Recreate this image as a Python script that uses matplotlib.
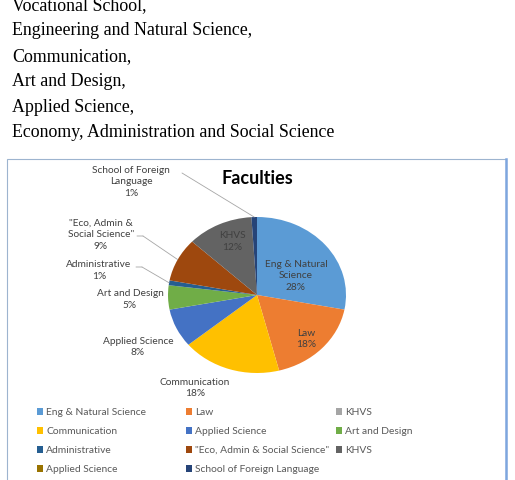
import numpy as np
import matplotlib
matplotlib.use("Agg")
import matplotlib.pyplot as plt

W, H = 515, 480

# text of the document above the chart
intro_lines = ["Vocational School,",
               "Engineering and Natural Science,",
               "Communication,",
               "Art and Design,",
               "Applied Science,",
               "Economy, Administration and Social Science"]

# chart data (clockwise from 12 o'clock)
faculties = ["Eng & Natural Science", "Law", "KHVS", "Communication",
             "Applied Science", "Art and Design", "Administrative",
             '"Eco, Admin & Social Science"', "KHVS", "Applied Science",
             "School of Foreign Language"]
shares = [28, 18, 0, 18, 8, 5, 1, 9, 12, 0, 1]
colors = ["#5B9BD5", "#ED7D31", "#A5A5A5", "#FFC000", "#4472C4", "#70AD47",
          "#255E91", "#9E480E", "#636363", "#997300", "#264478"]
# wrapped data labels as Excel shows them (None = not shown)
slice_labels = ["Eng & Natural\nScience", "Law", None, "Communication",
                "Applied Science", "Art and Design", "Administrative",
                '"Eco, Admin &\nSocial Science"', "KHVS", None,
                "School of Foreign\nLanguage"]

# label block centres in pixels (top-left origin)
label_pos = {0: (296, 276), 1: (306, 339), 3: (195, 388), 4: (138, 347),
             5: (130, 299.5), 6: (99, 270.5), 7: (101, 234.5),
             8: (232, 241.5), 10: (131, 182)}
# leader lines: label side start, knee
leaders = {10: [(182, 173)], 7: [(137, 236), (143, 236)],
           6: [(136, 267), (142, 267)]}

chart_font = "Lato"
label_col = "#404040"
line_col = "#A6A6A6"

fig = plt.figure(figsize=(W / 100, H / 100), dpi=100)


def fx(px):
    return px / W


def fy(py):
    return 1 - py / H


# document text
for i, line in enumerate(intro_lines):
    fig.text(fx(12), fy(10 + 25.4 * i), line, family="Liberation Serif",
             fontsize=12.9, va="baseline", ha="left", color="black")

# chart frame
frame = plt.Rectangle((fx(7), fy(490)), fx(506) - fx(7), fy(159) - fy(490),
                      transform=fig.transFigure, fill=False,
                      edgecolor="#9DB4CF", linewidth=0.8)
fig.patches.append(frame)
fig.add_artist(plt.Line2D([fx(506), fx(506)], [fy(159), fy(490)],
                          transform=fig.transFigure, color="#7EA6DE", lw=1.8))

fig.text(fx(257), fy(178), "Faculties", family=chart_font, fontweight="bold",
         fontsize=13, ha="center", va="center", color="black")

# pie (Excel's pie is slightly squashed in the screenshot)
cx, cy, rx, ry = 257, 295, 89, 78
ax = fig.add_axes([fx(cx - rx), fy(cy + ry), (2 * rx) / W, (2 * ry) / H])
wedges, _ = ax.pie(shares, colors=colors, startangle=90, counterclock=False,
                   wedgeprops=dict(linewidth=0))
ax.set_aspect("auto")
ax.set_xlim(-1, 1)
ax.set_ylim(-1, 1)
ax.axis("off")

total = sum(shares)
for i, lab in enumerate(slice_labels):
    if lab is None:
        continue
    px, py = label_pos[i]
    fig.text(fx(px), fy(py), f"{lab}\n{shares[i] / total:.0%}",
             family=chart_font, fontsize=7.3, ha="center", va="center",
             color=label_col, linespacing=1.38)
    if i in leaders:
        w = wedges[i]
        mid = np.deg2rad((w.theta1 + w.theta2) / 2)
        pts = leaders[i]
        for a, b in zip(pts[:-1], pts[1:]):
            ax.annotate("", xy=(b[0], H - b[1]), xycoords="figure pixels",
                        xytext=(a[0], H - a[1]), textcoords="figure pixels",
                        arrowprops=dict(arrowstyle="-", color=line_col, lw=0.6,
                                        shrinkA=0, shrinkB=0))
        k = pts[-1]
        ax.annotate("", xy=(np.cos(mid), np.sin(mid)), xycoords="data",
                    xytext=(k[0], H - k[1]), textcoords="figure pixels",
                    arrowprops=dict(arrowstyle="-", color=line_col, lw=0.6,
                                    shrinkA=0, shrinkB=0))

# legend: Excel fills rows of three, equal column widths
col_x = [37, 186, 336]
for c in range(3):
    idx = list(range(c, len(faculties), 3))
    fig.legend([wedges[i] for i in idx], [faculties[i] for i in idx],
               loc="upper left", bbox_to_anchor=(fx(col_x[c]), fy(408)),
               frameon=False, handlelength=0.6, handleheight=0.6,
               handletextpad=0.3, labelspacing=0.98, borderpad=0,
               borderaxespad=0,
               prop=dict(family=chart_font, size=7.4), labelcolor="#595959")

fig.savefig("out.png", dpi=100)
